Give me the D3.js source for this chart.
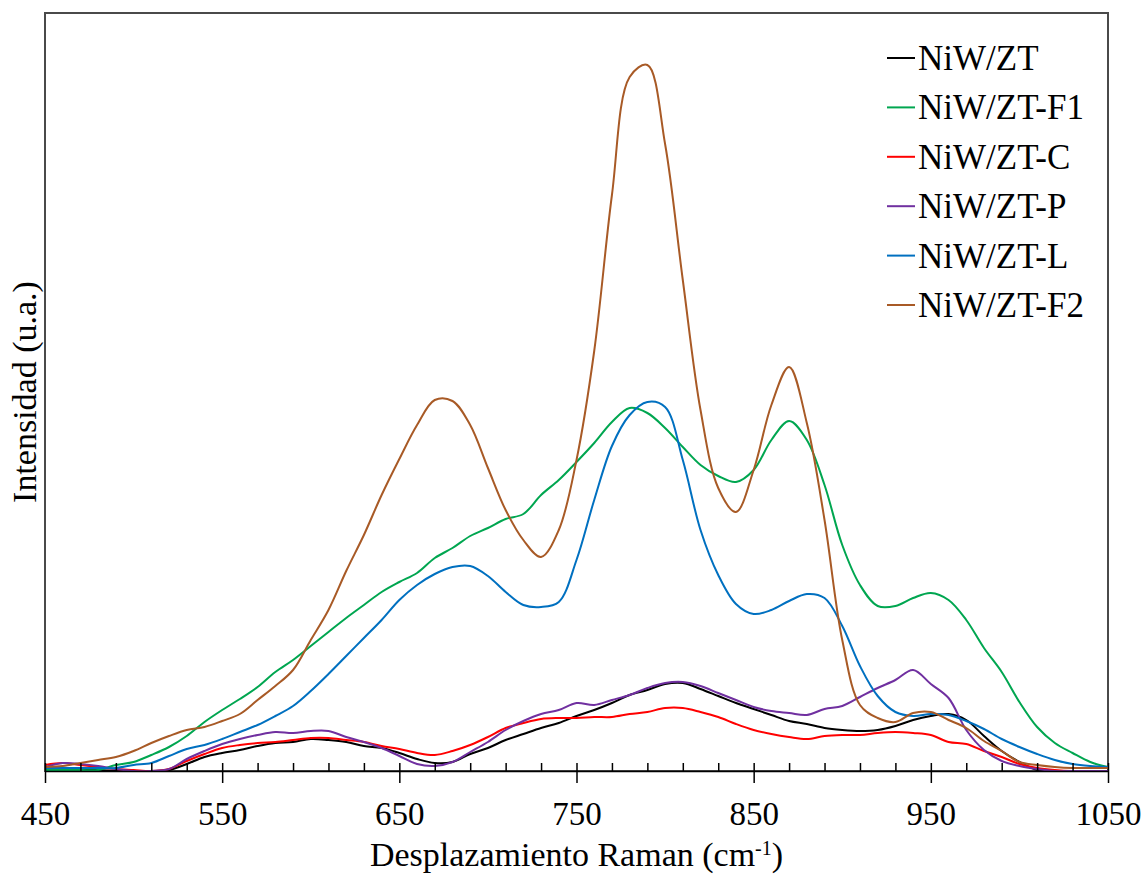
<!DOCTYPE html>
<html>
<head>
<meta charset="utf-8">
<script src="https://cdn.jsdelivr.net/npm/d3@7"></script>
<style>
  html, body { margin: 0; padding: 0; background: #fff; }
  svg { display: block; font-family: "Liberation Serif", "Times New Roman", serif; }
</style>
</head>
<body>
<svg id="chart" width="1148" height="877"></svg>
<script>
// Raman shift grid (cm-1), sampled every 10 cm-1
const ramanShift = d3.range(450, 1051, 10);

// Intensities (arbitrary units) for each catalyst
const niwZT = [1,1,1,1,0,0,0,1,7,14,18,21,25,28,29,32,31,29,25,23,18,12,8,9,17,23,31,37,43,48,55,61,68,76,81,87,88,82,75,68,62,56,50,47,43,41,40,41,45,51,55,57,51,35,20,9,1,0,0,0,0];
const niwZTF1 = [1,1,1,1,6,9,16,24,35,49,61,72,84,99,111,125,139,153,166,179,189,198,213,223,235,243,252,257,276,291,309,328,349,363,358,343,324,306,295,289,301,331,350,331,286,226,186,165,165,173,178,171,151,123,99,69,44,28,18,9,4];
const niwZTC = [6,8,6,4,2,1,0,2,10,17,23,26,28,29,31,33,33,31,29,25,22,18,16,20,26,34,43,48,52,53,53,54,54,57,59,63,63,59,54,47,41,37,34,32,35,36,36,38,39,38,36,29,27,20,14,7,3,1,0,0,0];
const niwZTP = [4,8,7,5,2,0,0,2,12,20,27,32,36,39,38,40,40,34,29,23,15,7,5,9,19,29,41,50,57,61,68,66,71,76,83,88,89,85,78,71,64,60,58,56,62,65,74,83,91,101,87,73,41,21,10,5,2,0,0,0,0];
const niwZTL = [3,3,3,3,3,6,8,15,22,26,32,39,46,55,65,80,97,115,133,151,171,186,197,204,205,195,179,166,164,169,211,271,325,356,369,364,311,241,196,167,157,161,170,177,173,145,105,75,59,55,57,56,50,42,32,24,17,11,7,5,4];
const niwZTF2 = [4,5,8,11,14,20,28,35,41,44,50,57,71,85,101,131,161,200,236,276,312,346,371,370,346,303,261,231,214,241,311,420,576,694,706,627,491,361,283,259,301,366,404,348,251,131,66,53,49,58,59,51,43,30,20,9,6,4,3,3,3];

const seriesNames = ["NiW/ZT", "NiW/ZT-F1", "NiW/ZT-C", "NiW/ZT-P", "NiW/ZT-L", "NiW/ZT-F2"];
const seriesColors = ["#000000", "#00a650", "#ff0000", "#7030a0", "#0070c0", "#a85a26"];
const seriesValues = [niwZT, niwZTF1, niwZTC, niwZTP, niwZTL, niwZTF2];

const majorTicks = [450, 550, 650, 750, 850, 950, 1050];
const minorTicks = d3.range(450, 1051, 20).filter(v => (v - 450) % 100 !== 0);

const svg = d3.select("#chart");
const plot = { left: 45, right: 1108, top: 13, bottom: 771 };

const x = d3.scaleLinear().domain([450, 1050]).range([plot.left, plot.right]);
const y = d3.scaleLinear().domain([0, 758]).range([plot.bottom, plot.top]);

// Plot frame
svg.append("rect")
  .attr("x", plot.left).attr("y", plot.top)
  .attr("width", plot.right - plot.left).attr("height", plot.bottom - plot.top)
  .attr("fill", "none").attr("stroke", "#4a4a4a").attr("stroke-width", 2);

// Spectra
const line = d3.line()
  .x((d, i) => x(ramanShift[i]))
  .y(d => y(d))
  .curve(d3.curveCatmullRom.alpha(0.5));

svg.append("clipPath").attr("id", "plotClip")
  .append("rect")
  .attr("x", plot.left).attr("y", plot.top)
  .attr("width", plot.right - plot.left).attr("height", plot.bottom - plot.top);

const lines = svg.append("g").attr("clip-path", "url(#plotClip)");
seriesValues.forEach((vals, k) => {
  lines.append("path")
    .datum(vals)
    .attr("fill", "none")
    .attr("stroke", seriesColors[k])
    .attr("stroke-width", 2)
    .attr("stroke-linejoin", "round")
    .attr("d", line);
});

// Bottom axis: major ticks cross the axis line, minor ticks point inward
const axisMajor = d3.axisBottom(x).tickValues(majorTicks).tickSize(12).tickSizeOuter(0).tickFormat(d3.format("d"));
const gx = svg.append("g").attr("transform", `translate(0,${plot.bottom})`).call(axisMajor);
gx.select(".domain").attr("stroke", "#000").attr("stroke-width", 1.5);
gx.selectAll(".tick line").attr("y1", -8).attr("stroke", "#000").attr("stroke-width", 1.5);
gx.selectAll(".tick text")
  .attr("y", 54)
  .attr("dy", 0)
  .attr("fill", "#000")
  .style("font-family", "'Liberation Serif', 'Times New Roman', serif")
  .style("font-size", "33px");

const axisMinor = d3.axisBottom(x).tickValues(minorTicks).tickSize(-8).tickSizeOuter(0).tickFormat("");
const gm = svg.append("g").attr("transform", `translate(0,${plot.bottom})`).call(axisMinor);
gm.select(".domain").remove();
gm.selectAll(".tick line").attr("stroke", "#000").attr("stroke-width", 1.5);

// Axis titles
const xt = svg.append("text")
  .attr("x", (plot.left + plot.right) / 2)
  .attr("y", 866)
  .attr("text-anchor", "middle")
  .style("font-size", "34px")
  .attr("fill", "#000");
xt.append("tspan").text("Desplazamiento Raman (cm");
xt.append("tspan").attr("baseline-shift", "super").style("font-size", "20px").text("-1");
xt.append("tspan").text(")");

svg.append("text")
  .attr("transform", `translate(36,${(plot.top + plot.bottom) / 2}) rotate(-90)`)
  .attr("text-anchor", "middle")
  .style("font-size", "34px")
  .attr("fill", "#000")
  .text("Intensidad (u.a.)");

// Legend
const legend = svg.append("g").attr("transform", "translate(887,58)");
seriesNames.forEach((name, k) => {
  const g = legend.append("g").attr("transform", `translate(0,${k * 49.4})`);
  g.append("line")
    .attr("x1", 0).attr("x2", 28).attr("y1", 0).attr("y2", 0)
    .attr("stroke", seriesColors[k]).attr("stroke-width", 2);
  g.append("text")
    .attr("x", 31).attr("y", 12)
    .style("font-size", "35px")
    .attr("fill", "#000")
    .text(name);
});
</script>
</body>
</html>
